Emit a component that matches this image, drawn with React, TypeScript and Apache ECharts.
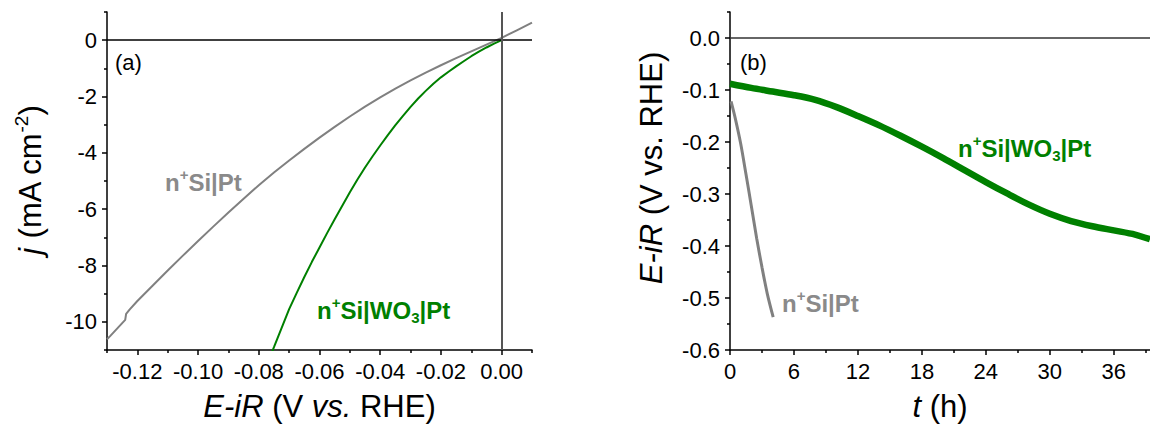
import React, { useEffect, useRef } from "react";
import * as echarts from "echarts";

// ---------- Panel (a): polarisation curves ----------
const ptPotential = [-0.13, -0.1289, -0.124, -0.1237, -0.1225, -0.12, -0.115, -0.11, -0.105, -0.1, -0.095, -0.09, -0.085, -0.08, -0.075, -0.07, -0.065, -0.06, -0.055, -0.05, -0.045, -0.04, -0.035, -0.03, -0.025, -0.02, -0.015, -0.01, -0.005, 0.0, 0.005, 0.01];
const ptCurrent = [-10.62, -10.5, -9.93, -9.72, -9.56, -9.26, -8.72, -8.18, -7.65, -7.13, -6.62, -6.12, -5.63, -5.15, -4.7, -4.27, -3.86, -3.46, -3.08, -2.71, -2.36, -2.03, -1.72, -1.43, -1.15, -0.89, -0.64, -0.4, -0.16, 0.08, 0.35, 0.62];

const wo3Potential = [-0.0775, -0.075, -0.0725, -0.07, -0.0675, -0.065, -0.0625, -0.06, -0.0575, -0.055, -0.0525, -0.05, -0.0475, -0.045, -0.0425, -0.04, -0.0375, -0.035, -0.0325, -0.03, -0.0275, -0.025, -0.0225, -0.02, -0.0175, -0.015, -0.0125, -0.01, -0.0075, -0.005, -0.0025, 0.0];
const wo3Current = [-11.57, -10.9, -10.22, -9.55, -8.97, -8.41, -7.87, -7.36, -6.85, -6.36, -5.88, -5.4, -4.95, -4.52, -4.12, -3.74, -3.37, -3.02, -2.69, -2.37, -2.07, -1.8, -1.55, -1.32, -1.12, -0.93, -0.75, -0.57, -0.41, -0.26, -0.12, 0.0];

const potMajorTicks = [-0.12, -0.1, -0.08, -0.06, -0.04, -0.02, 0.0];
const potMinorTicks = [-0.13, -0.11, -0.09, -0.07, -0.05, -0.03, -0.01, 0.01];
const curMajorTicks = [-10, -8, -6, -4, -2, 0];
const curMinorTicks = [-11, -9, -7, -5, -3, -1, 1];

// ---------- Panel (b): stability over time ----------
const wo3Time = [0, 2, 4, 6, 8, 10, 12, 14, 16, 18, 20, 22, 24, 26, 28, 30, 32, 34, 36, 38, 39.4];
const wo3Potential_t = [-0.088, -0.096, -0.103, -0.11, -0.119, -0.133, -0.15, -0.168, -0.188, -0.209, -0.231, -0.254, -0.277, -0.299, -0.32, -0.338, -0.352, -0.362, -0.37, -0.378, -0.387];

const ptTime = [0.1, 0.5, 1.0, 1.5, 2.0, 2.5, 3.0, 3.5, 4.05];
const ptPotential_t = [-0.122, -0.155, -0.203, -0.262, -0.323, -0.385, -0.441, -0.492, -0.537];

const timeMajorTicks = [0, 6, 12, 18, 24, 30, 36];
const timeMinorTicks = [3, 9, 15, 21, 27, 33, 39];
const eMajorTicks = [0, -0.1, -0.2, -0.3, -0.4, -0.5, -0.6];
const eMinorTicks = [0.05, -0.05, -0.15, -0.25, -0.35, -0.45, -0.55];

const FONT = "'Liberation Sans', Arial, sans-serif";
const GRAY_LINE = "#808080";
const GRAY_TEXT = "#8a8a8a";
const GREEN = "#008000";

function zip(xs: number[], ys: number[]) {
  return xs.map((x, i) => [x, ys[i]]);
}

function majorAxis(gridIndex: number, min: number, max: number, ticks: number[], fmt: (v: number) => string, extra: any = {}) {
  return {
    gridIndex,
    type: "value",
    min,
    max,
    axisLine: { show: true, onZero: false, lineStyle: { color: "#000", width: 1.5 } },
    axisTick: { show: true, inside: false, length: 5, customValues: ticks, lineStyle: { color: "#000", width: 1.5 } },
    axisLabel: { customValues: ticks, formatter: fmt, margin: 10, fontSize: 22, color: "#000", fontFamily: FONT },
    splitLine: { show: false },
    ...extra,
  };
}

function minorAxis(gridIndex: number, min: number, max: number, ticks: number[], position: string) {
  return {
    gridIndex,
    type: "value",
    min,
    max,
    position,
    axisLine: { show: false, onZero: false },
    axisTick: { show: true, inside: false, length: 3, customValues: ticks, lineStyle: { color: "#000", width: 1.5 } },
    axisLabel: { show: false },
    splitLine: { show: false },
  };
}

const titleStyle = {
  fontSize: 31,
  fontFamily: FONT,
  color: "#000",
  rich: {
    i: { fontSize: 31, fontFamily: FONT, fontStyle: "italic", color: "#000" },
  },
};

export default function App() {
  const ref = useRef<HTMLDivElement>(null);

  useEffect(() => {
    if (!ref.current) return;
    const chart = echarts.init(ref.current, null, { renderer: "svg" });

    const supRich = (size: number, color: string, weight: string) => ({
      n: { fontSize: size, fontFamily: FONT, fontWeight: weight, fill: color, lineHeight: size + 6 },
      sup: { fontSize: Math.round(size * 0.62), fontFamily: FONT, fontWeight: weight, fill: color, verticalAlign: "top", lineHeight: Math.round(size * 0.62) },
      sub: { fontSize: Math.round(size * 0.62), fontFamily: FONT, fontWeight: weight, fill: color, verticalAlign: "bottom", lineHeight: Math.round(size * 0.62) },
      i: { fontSize: size, fontFamily: FONT, fontWeight: weight, fontStyle: "italic", fill: color, lineHeight: size + 6 },
    });

    const option: any = {
      animation: false,
      backgroundColor: "#fff",
      grid: [
        { left: 107, top: 12, width: 425, height: 341 },
        { left: 730, top: 12, width: 420, height: 341 },
      ],
      xAxis: [
        majorAxis(0, -0.13, 0.01, potMajorTicks, (v: number) => v.toFixed(2), {
          position: "bottom",
          name: "{i|E-iR} (V {i|vs.} RHE)",
          nameLocation: "middle",
          nameGap: 41,
          nameTextStyle: titleStyle,
        }),
        minorAxis(0, -0.13, 0.01, potMinorTicks, "bottom"),
        majorAxis(1, 0, 39.4, timeMajorTicks, (v: number) => String(v), {
          position: "bottom",
          name: "{i|t} (h)",
          nameLocation: "middle",
          nameGap: 41,
          nameTextStyle: titleStyle,
        }),
        minorAxis(1, 0, 39.4, timeMinorTicks, "bottom"),
      ],
      yAxis: [
        majorAxis(0, -11, 1, curMajorTicks, (v: number) => String(v), { position: "left" }),
        minorAxis(0, -11, 1, curMinorTicks, "left"),
        majorAxis(1, -0.6, 0.05, eMajorTicks, (v: number) => v.toFixed(1), { position: "left" }),
        minorAxis(1, -0.6, 0.05, eMinorTicks, "left"),
      ],
      series: [
        {
          name: "n+Si|Pt (a)",
          type: "line",
          xAxisIndex: 0,
          yAxisIndex: 0,
          data: zip(ptPotential, ptCurrent),
          showSymbol: false,
          lineStyle: { color: GRAY_LINE, width: 2 },
          clip: true,
          markLine: {
            silent: true,
            symbol: ["none", "none"],
            label: { show: false },
            animation: false,
            data: [
              { yAxis: 0, lineStyle: { color: "#000", width: 1.5, type: "solid" } },
              { xAxis: 0, lineStyle: { color: "#555", width: 2, type: "solid" } },
            ],
          },
        },
        {
          name: "n+Si|WO3|Pt (a)",
          type: "line",
          xAxisIndex: 0,
          yAxisIndex: 0,
          data: zip(wo3Potential, wo3Current),
          showSymbol: false,
          lineStyle: { color: GREEN, width: 2 },
          clip: true,
        },
        {
          name: "n+Si|WO3|Pt (b)",
          type: "line",
          xAxisIndex: 2,
          yAxisIndex: 2,
          data: zip(wo3Time, wo3Potential_t),
          showSymbol: false,
          smooth: 0.3,
          lineStyle: { color: GREEN, width: 6.5 },
          clip: true,
          markLine: {
            silent: true,
            symbol: ["none", "none"],
            label: { show: false },
            animation: false,
            data: [{ yAxis: 0, lineStyle: { color: "#333", width: 1.5, type: "solid" } }],
          },
        },
        {
          name: "n+Si|Pt (b)",
          type: "line",
          xAxisIndex: 2,
          yAxisIndex: 2,
          data: zip(ptTime, ptPotential_t),
          showSymbol: false,
          smooth: 0.3,
          lineStyle: { color: GRAY_LINE, width: 3 },
          clip: true,
        },
      ],
      graphic: [
        {
          type: "text",
          x: 30,
          y: 180,
          rotation: Math.PI / 2,
          style: {
            text: "{i|j} {n|(mA cm}{sup|-2}{n|)}",
            align: "center",
            verticalAlign: "middle",
            fontSize: 31,
            fontFamily: FONT,
            fill: "#000",
            rich: {
              ...supRich(31, "#000", "normal"),
              sup: { fontSize: 19, fontFamily: FONT, fill: "#000", verticalAlign: "top", lineHeight: 19 },
            },
          },
        },
        {
          type: "text",
          x: 651,
          y: 168,
          rotation: Math.PI / 2,
          style: {
            text: "{i|E-iR} {n|(V vs. RHE)}",
            align: "center",
            verticalAlign: "middle",
            fontSize: 31,
            fontFamily: FONT,
            fill: "#000",
            rich: supRich(31, "#000", "normal"),
          },
        },
        {
          type: "text",
          x: 115,
          y: 62,
          style: { text: "(a)", fontSize: 22, fontFamily: FONT, fill: "#000", align: "left", verticalAlign: "middle" },
        },
        {
          type: "text",
          x: 740,
          y: 62,
          style: { text: "(b)", fontSize: 22, fontFamily: FONT, fill: "#000", align: "left", verticalAlign: "middle" },
        },
        {
          type: "text",
          x: 165,
          y: 182,
          style: {
            text: "{n|n}{sup|+}{n|Si|Pt}",
            align: "left",
            verticalAlign: "middle",
            rich: supRich(24, GRAY_TEXT, "bold"),
          },
        },
        {
          type: "text",
          x: 317,
          y: 310,
          style: {
            text: "{n|n}{sup|+}{n|Si|WO}{sub|3}{n||Pt}",
            align: "left",
            verticalAlign: "middle",
            rich: supRich(24, GREEN, "bold"),
          },
        },
        {
          type: "text",
          x: 958,
          y: 148,
          style: {
            text: "{n|n}{sup|+}{n|Si|WO}{sub|3}{n||Pt}",
            align: "left",
            verticalAlign: "middle",
            rich: supRich(24, GREEN, "bold"),
          },
        },
        {
          type: "text",
          x: 782,
          y: 303,
          style: {
            text: "{n|n}{sup|+}{n|Si|Pt}",
            align: "left",
            verticalAlign: "middle",
            rich: supRich(24, GRAY_TEXT, "bold"),
          },
        },
      ],
    };

    chart.setOption(option);
    return () => chart.dispose();
  }, []);

  return <div ref={ref} style={{ position: "absolute", left: 0, top: 0, width: 1150, height: 427 }} />;
}
